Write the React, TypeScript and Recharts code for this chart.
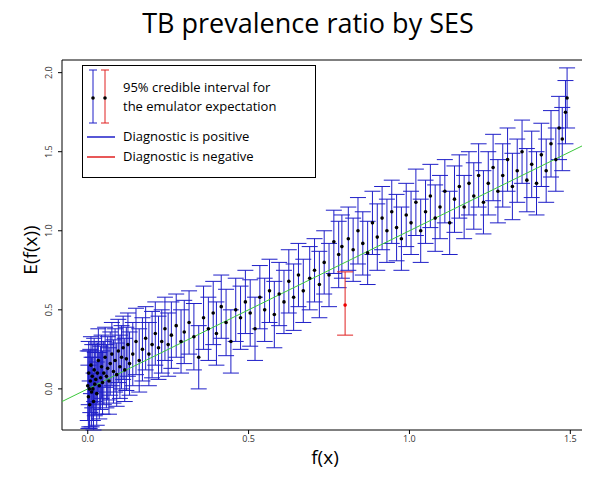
import { ScatterChart, Scatter, XAxis, YAxis, ErrorBar, ReferenceArea } from "recharts";

const xs = [0.000,0.002,0.003,0.005,0.006,0.008,0.010,0.012,0.014,0.016,0.018,0.020,0.022,0.025,0.028,0.030,0.033,0.036,0.040,0.043,0.046,0.050,0.054,0.058,0.062,0.066,0.070,0.075,0.080,0.085,0.090,0.095,0.100,0.105,0.110,0.115,0.120,0.125,0.130,0.140,0.150,0.160,0.170,0.180,0.190,0.200,0.210,0.220,0.230,0.240,0.250,0.260,0.275,0.290,0.300,0.315,0.330,0.345,0.360,0.375,0.390,0.400,0.415,0.430,0.445,0.460,0.475,0.490,0.505,0.520,0.535,0.550,0.565,0.580,0.595,0.610,0.625,0.640,0.655,0.670,0.690,0.705,0.720,0.735,0.750,0.765,0.780,0.790,0.810,0.825,0.840,0.855,0.870,0.885,0.900,0.915,0.930,0.945,0.960,0.975,0.990,1.005,1.020,1.035,1.050,1.065,1.080,1.095,1.110,1.125,1.140,1.155,1.170,1.185,1.200,1.215,1.230,1.245,1.260,1.275,1.290,1.305,1.320,1.335,1.350,1.365,1.380,1.395,1.410,1.425,1.440,1.455,1.465,1.475,1.485,1.490];
const ys = [0.02,-0.05,0.10,0.00,-0.10,0.05,0.15,-0.02,0.08,0.00,-0.08,0.12,0.03,0.06,-0.03,0.10,0.18,0.02,0.07,0.14,0.04,0.10,0.20,0.08,0.13,0.05,0.16,0.22,0.11,0.18,0.09,0.24,0.14,0.20,0.26,0.12,0.19,0.28,0.16,0.22,0.30,0.18,0.25,0.32,0.22,0.28,0.35,0.26,0.30,0.38,0.28,0.34,0.40,0.30,0.36,0.42,0.33,0.20,0.45,0.38,0.48,0.35,0.52,0.42,0.30,0.50,0.45,0.55,0.48,0.38,0.58,0.50,0.62,0.47,0.60,0.55,0.68,0.58,0.72,0.62,0.70,0.75,0.66,0.80,0.72,0.93,0.85,0.90,0.95,0.88,1.00,0.92,0.86,1.05,0.96,1.08,1.00,1.12,1.02,0.95,1.10,1.05,1.18,1.00,1.12,1.22,1.08,1.15,1.25,1.05,1.20,1.28,1.15,1.30,1.22,1.35,1.18,1.30,1.40,1.25,1.35,1.45,1.28,1.38,1.50,1.32,1.42,1.30,1.48,1.38,1.55,1.45,1.65,1.58,1.75,1.84];
const errs = [0.22,0.2,0.2,0.24,0.15,0.2,0.18,0.22,0.2,0.2,0.18,0.2,0.2,0.22,0.2,0.19,0.2,0.21,0.2,0.2,0.2,0.2,0.19,0.2,0.2,0.21,0.2,0.2,0.2,0.2,0.2,0.2,0.2,0.2,0.2,0.2,0.2,0.2,0.2,0.2,0.21,0.2,0.2,0.2,0.2,0.21,0.2,0.2,0.2,0.2,0.2,0.21,0.2,0.2,0.2,0.2,0.21,0.2,0.2,0.2,0.2,0.2,0.2,0.21,0.2,0.2,0.2,0.2,0.21,0.2,0.2,0.2,0.2,0.21,0.2,0.2,0.2,0.21,0.2,0.2,0.2,0.2,0.21,0.2,0.2,0.2,0.21,0.2,0.2,0.2,0.21,0.2,0.2,0.2,0.21,0.2,0.2,0.2,0.21,0.2,0.2,0.2,0.21,0.2,0.2,0.2,0.21,0.2,0.2,0.2,0.21,0.2,0.2,0.2,0.21,0.2,0.2,0.2,0.21,0.2,0.2,0.2,0.21,0.2,0.2,0.2,0.21,0.2,0.2,0.2,0.21,0.2,0.2,0.2,0.2,0.19];
const redPoint = [{ x: 0.8, y: 0.53, err: [0.19, 0.21] }];
const xTicks = [0, 0.5, 1, 1.5];
const yTicks = [0, 0.5, 1, 1.5, 2];
const fitLine = [{ x: -0.08, y: -0.08 }, { x: 1.555, y: 1.555 }];

const blue = "#1f1fc8";
const data = xs.map((x, i) => ({ x, y: ys[i], err: errs[i] }));

const Dot = (p: any) => <circle cx={p.cx} cy={p.cy} r={1.8} fill="#000" />;

const YTick = (p: any) => (
  <text x={p.x - 4} y={p.y} transform={`rotate(-90 ${p.x - 4} ${p.y})`} textAnchor="middle" fontSize={9} fill="#333">
    {Number(p.payload.value).toFixed(1)}
  </text>
);

export default function App() {
  return (
    <div style={{ position: "relative", width: 590, height: 477, margin: -8, background: "#fff", fontFamily: "Open Sans" }}>
      <div style={{ position: "absolute", top: 4, left: 0, width: 616, textAlign: "center", fontSize: 27 }}>
        TB prevalence ratio by SES
      </div>
      <ScatterChart width={590} height={477} margin={{ top: 60, left: 42, right: 2, bottom: 27 }}>
        <XAxis type="number" dataKey="x" domain={[-0.08, 1.555]} ticks={xTicks} allowDataOverflow height={20}
          tickFormatter={(v: number) => v.toFixed(1)} tick={{ fontSize: 9, fill: "#333" }} tickSize={4} axisLine={false} stroke="#000" />
        <YAxis type="number" dataKey="y" domain={[-0.26, 2.08]} ticks={yTicks} allowDataOverflow width={20}
          tick={<YTick />} tickSize={4} axisLine={false} stroke="#000" />
        <ReferenceArea x1={-0.08} x2={1.555} y1={-0.26} y2={2.08} fill="none" stroke="#000" strokeWidth={1} />
        <Scatter data={fitLine} line={{ stroke: "#3cc83c", strokeWidth: 1 }} shape={() => null} isAnimationActive={false} />
        <Scatter data={data} shape={<Dot />} isAnimationActive={false}>
          <ErrorBar dataKey="err" direction="y" stroke={blue} width={8} strokeWidth={1} />
        </Scatter>
        <Scatter data={redPoint} shape={(p: any) => <circle cx={p.cx} cy={p.cy} r={1.8} fill="#e00" />} isAnimationActive={false}>
          <ErrorBar dataKey="err" direction="y" stroke="#e02020" width={8} strokeWidth={1} />
        </Scatter>
      </ScatterChart>
      <div style={{ position: "absolute", left: 30, top: 250, transform: "translate(-50%,-50%) rotate(-90deg)", fontSize: 19 }}>E(f(x))</div>
      <div style={{ position: "absolute", left: 0, width: 650, top: 444, textAlign: "center", fontSize: 19 }}>f(x)</div>
      <div style={{ position: "absolute", left: 82, top: 65, width: 232, height: 111, border: "1.5px solid #000", background: "#fff", fontSize: 13 }}>
        <svg width={40} height={70} style={{ position: "absolute", left: 0, top: 0 }}>
          <g stroke={blue}><line x1={10} y1={4} x2={10} y2={57} /><line x1={6} y1={4} x2={14} y2={4} /><line x1={6} y1={57} x2={14} y2={57} /></g>
          <circle cx={10} cy={32} r={1.8} fill="#000" />
          <g stroke="#e02020"><line x1={22} y1={4} x2={22} y2={57} /><line x1={18} y1={4} x2={26} y2={4} /><line x1={18} y1={57} x2={26} y2={57} /></g>
          <circle cx={22} cy={32} r={1.8} fill="#000" />
        </svg>
        <div style={{ position: "absolute", left: 40, top: 12, lineHeight: "19px" }}>95% credible interval for<br />the emulator expectation</div>
        <svg width={40} height={40} style={{ position: "absolute", left: 0, top: 60 }}>
          <line x1={4} y1={11} x2={32} y2={11} stroke={blue} strokeWidth={1.5} />
          <line x1={4} y1={31} x2={32} y2={31} stroke="#e02020" strokeWidth={1.5} />
        </svg>
        <div style={{ position: "absolute", left: 40, top: 61 }}>Diagnostic is positive</div>
        <div style={{ position: "absolute", left: 40, top: 81 }}>Diagnostic is negative</div>
      </div>
    </div>
  );
}
